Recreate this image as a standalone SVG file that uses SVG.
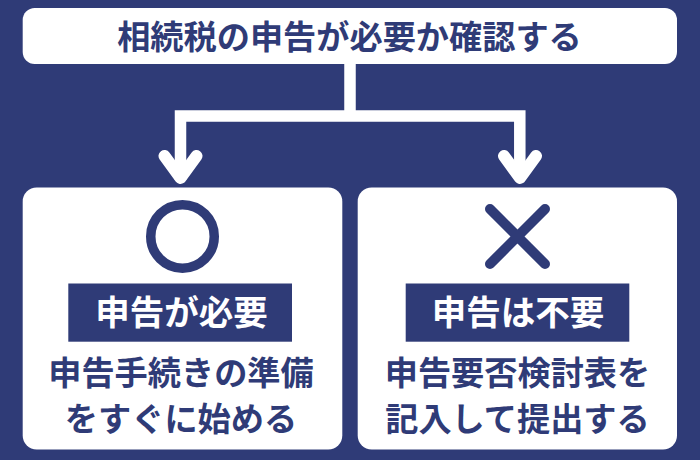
<svg xmlns="http://www.w3.org/2000/svg" width="700" height="460" viewBox="0 0 700 460">
<style>
.bg{fill:#2f3b77}
.box{fill:#fff}
.t{font-family:"Noto Sans CJK JP","Noto Sans",sans-serif;font-weight:700;text-anchor:middle;font-size:33.200px;fill:#2f3b77}
.l{font-size:34.500px;fill:#fff}
.c{fill:none;stroke:#fff;stroke-width:11.500}
.a{fill:none;stroke:#fff;stroke-width:12;stroke-linecap:round;stroke-linejoin:round}
</style>
<rect class="bg" width="700" height="460"/>
<g id="connectors">
<path class="c" d="M350 64V116H180.500V180M519.800 180V116H350"/>
<path class="a" d="M164.500 156L180.500 178L196.500 156M504 156L520 178L536 156"/>
</g>
<g id="top"><rect class="box" x="22.700" y="8" width="654.300" height="56" rx="12"/><text class="t" x="349.500" y="48.500">相続税の申告が必要か確認する</text></g>
<g id="left"><rect class="box" x="22.700" y="187.500" width="319.600" height="262" rx="14"/>
<circle cx="182.500" cy="236.400" r="31.750" fill="none" stroke="#2f3b77" stroke-width="9.500"/>
<rect class="bg" x="68.300" y="283.500" width="223.700" height="58.200"/>
<text class="t l" x="181.500" y="325">申告が必要</text>
<text class="t" x="181" y="385">申告手続きの準備</text>
<text class="t" x="181" y="431">をすぐに始める</text></g>
<g id="right"><rect class="box" x="357.700" y="187.500" width="319.300" height="262" rx="14"/>
<path fill="none" stroke="#2f3b77" stroke-width="10" stroke-linecap="round" d="M490 209L545 264M545 209L490 264"/>
<rect class="bg" x="405.700" y="283.500" width="223.600" height="58.200"/>
<text class="t l" x="518" y="325">申告は不要</text>
<text class="t" x="517.500" y="385">申告要否検討表を</text>
<text class="t" x="517.500" y="431">記入して提出する</text></g>
</svg>
